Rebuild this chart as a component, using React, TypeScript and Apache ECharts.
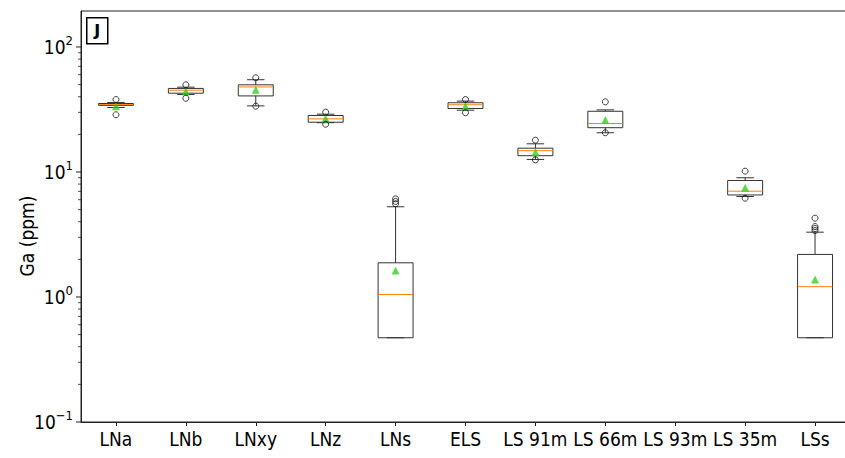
import React, { useEffect, useRef } from "react";
import * as echarts from "echarts";

const categories = ["LNa", "LNb", "LNxy", "LNz", "LNs", "ELS", "LS 91m", "LS 66m", "LS 93m", "LS 35m", "LSs"];

// Box statistics per group: [lower whisker, Q1, median, Q3, upper whisker]; null = no samples
const boxStats: (number[] | null)[] = [
  [32.8, 34.1, 34.6, 35.3, 36.0],
  [41.7, 42.7, 45.1, 46.6, 47.7],
  [33.8, 40.6, 47.9, 49.8, 54.7],
  [24.8, 25.0, 26.6, 28.3, 29.0],
  [0.472, 0.472, 1.047, 1.877, 5.27],
  [31.2, 32.2, 34.5, 35.8, 36.9],
  [12.6, 13.5, 14.8, 15.5, 16.8],
  [20.6, 22.6, 24.4, 30.6, 31.4],
  null,
  [6.37, 6.55, 7.02, 8.55, 8.99],
  [0.472, 0.472, 1.21, 2.19, 3.3],
];

const means: (number | null)[] = [33.6, 44.0, 45.5, 26.8, 1.63, 33.6, 14.4, 26.0, null, 7.47, 1.38];

const fliers: number[][] = [
  [38.0, 28.7],
  [49.8, 38.9],
  [56.7, 33.6],
  [30.1, 24.1],
  [6.1, 5.81, 5.57],
  [38.0, 29.8],
  [17.97, 12.5],
  [36.4, 20.6],
  [],
  [10.15, 6.17],
  [4.27, 3.66, 3.53, 3.4],
];

const yMin = 0.1;
const yMax = 194;

const FONT = "'DejaVu Sans Condensed', 'DejaVu Sans', sans-serif";
const EDGE = "#333333";
const MEDIAN = "#ff7f0e";
const MEAN = "#33d11c";

// log-axis tick positions: decades and their 2..9 multiples
const majorTicks = [0.1, 1, 10, 100];
const minorTicks: number[] = [];
for (const d of [0.1, 1, 10, 100]) {
  for (let k = 2; k <= 9; k++) {
    const v = +(k * d).toPrecision(3);
    if (v <= yMax) minorTicks.push(v);
  }
}

export default function App() {
  const ref = useRef<HTMLDivElement>(null);

  useEffect(() => {
    if (!ref.current) return;
    const chart = echarts.init(ref.current, undefined, { renderer: "svg" });

    const boxRows = boxStats
      .map((s, i) => (s ? [i, ...s] : null))
      .filter((r) => r !== null) as number[][];
    const meanRows = means
      .map((m, i) => (m === null ? null : [i, m]))
      .filter((r) => r !== null) as number[][];
    const flierRows: number[][] = [];
    fliers.forEach((arr, i) => arr.forEach((v) => flierRows.push([i, v])));
    const tickRows = [
      ...majorTicks.map((v) => [0, v, 1]),
      ...minorTicks.map((v) => [0, v, 0]),
    ];

    const option: any = {
      animation: false,
      grid: {
        left: 81,
        top: 11,
        width: 769,
        height: 411,
        containLabel: false,
        outerBoundsMode: "none",
        show: true,
        borderColor: "#222",
        borderWidth: 1,
        backgroundColor: "transparent",
      },
      xAxis: {
        type: "category",
        data: categories,
        boundaryGap: true,
        axisLine: { show: true, lineStyle: { color: "#222", width: 1 } },
        axisTick: { show: true, alignWithLabel: true, length: 4, lineStyle: { color: "#222" } },
        axisLabel: {
          interval: 0,
          hideOverlap: false,
          color: "#000",
          fontSize: 19,
          fontFamily: FONT,
          margin: 7,
        },
        splitLine: { show: false },
      },
      yAxis: {
        type: "log",
        logBase: 10,
        min: yMin,
        max: yMax,
        axisLine: { show: true, lineStyle: { color: "#222", width: 1 } },
        axisTick: { show: false },
        splitLine: { show: false },
        axisLabel: {
          margin: 8,
          formatter: (v: number) => {
            const e = Math.log10(v);
            const n = Math.round(e);
            if (Math.abs(e - n) > 1e-6) return "";
            const sup = n < 0 ? "\u2212" + Math.abs(n) : String(n);
            return `{b|10}{s|${sup}}`;
          },
          rich: {
            b: { fontSize: 19, fontFamily: FONT, color: "#000", lineHeight: 26 },
            s: { fontSize: 13, fontFamily: FONT, color: "#000", verticalAlign: "top" },
          },
        },
      },
      series: [
        {
          type: "custom",
          name: "ticks",
          clip: false,
          silent: true,
          data: tickRows,
          encode: { x: 0, y: 1 },
          renderItem: (params: any, api: any) => {
            const cs = params.coordSys;
            const y = api.coord([0, api.value(1)])[1];
            const len = api.value(2) === 1 ? 5 : 3;
            return {
              type: "line",
              shape: { x1: cs.x - len, y1: y, x2: cs.x, y2: y },
              style: { stroke: "#222", lineWidth: api.value(2) === 1 ? 1 : 0.8 },
            };
          },
        },
        {
          type: "custom",
          name: "boxes",
          data: boxRows,
          encode: { x: 0, y: [1, 2, 3, 4, 5] },
          renderItem: (params: any, api: any) => {
            const cs = params.coordSys;
            const band = cs.width / categories.length;
            const i = api.value(0);
            const pLo = api.coord([i, api.value(1)]);
            const pQ1 = api.coord([i, api.value(2)]);
            const pMed = api.coord([i, api.value(3)]);
            const pQ3 = api.coord([i, api.value(4)]);
            const pHi = api.coord([i, api.value(5)]);
            const cx = pMed[0];
            const half = band * 0.25;
            const capHalf = band * 0.125;
            const edge = { stroke: EDGE, lineWidth: 1, fill: null };
            return {
              type: "group",
              children: [
                { type: "line", shape: { x1: cx, y1: pQ3[1], x2: cx, y2: pHi[1] }, style: edge },
                { type: "line", shape: { x1: cx, y1: pQ1[1], x2: cx, y2: pLo[1] }, style: edge },
                {
                  type: "line",
                  shape: { x1: cx - capHalf, y1: pHi[1], x2: cx + capHalf, y2: pHi[1] },
                  style: edge,
                },
                {
                  type: "line",
                  shape: { x1: cx - capHalf, y1: pLo[1], x2: cx + capHalf, y2: pLo[1] },
                  style: edge,
                },
                {
                  type: "rect",
                  shape: { x: cx - half, y: pQ3[1], width: half * 2, height: pQ1[1] - pQ3[1] },
                  style: { stroke: EDGE, lineWidth: 1, fill: "none" },
                },
                {
                  type: "line",
                  shape: { x1: cx - half, y1: pMed[1], x2: cx + half, y2: pMed[1] },
                  style: { stroke: MEDIAN, lineWidth: 1 },
                },
              ],
            };
          },
        },
        {
          type: "scatter",
          name: "means",
          data: meanRows,
          symbol: "triangle",
          symbolSize: 8,
          itemStyle: { color: MEAN, borderColor: MEAN, borderWidth: 0 },
          z: 3,
        },
        {
          type: "scatter",
          name: "fliers",
          data: flierRows,
          symbol: "circle",
          symbolSize: 6,
          itemStyle: { color: "rgba(0,0,0,0)", borderColor: "#111", borderWidth: 1 },
          z: 4,
        },
      ],
      graphic: [
        {
          type: "text",
          x: 27,
          y: 236,
          rotation: Math.PI / 2,
          style: {
            text: "Ga (ppm)",
            fill: "#000",
            font: `19px ${FONT}`,
            align: "center",
            verticalAlign: "middle",
          },
        },
        {
          type: "group",
          left: 86,
          top: 17,
          children: [
            {
              type: "rect",
              shape: { x: 0, y: 0, width: 21, height: 26 },
              style: { fill: "#fff", stroke: "#000", lineWidth: 1.5 },
            },
            {
              type: "text",
              x: 10.5,
              y: 13,
              style: {
                text: "J",
                fill: "#000",
                font: "bold 16px 'DejaVu Sans', sans-serif",
                align: "center",
                verticalAlign: "middle",
              },
            },
          ],
        },
      ],
    };

    chart.setOption(option);
    return () => chart.dispose();
  }, []);

  // The plot frame runs past the right edge of the window, so the canvas is wider than the view.
  return (
    <div
      ref={ref}
      style={{ position: "fixed", left: 0, top: 0, width: 870, height: 458, background: "#fff" }}
    />
  );
}
